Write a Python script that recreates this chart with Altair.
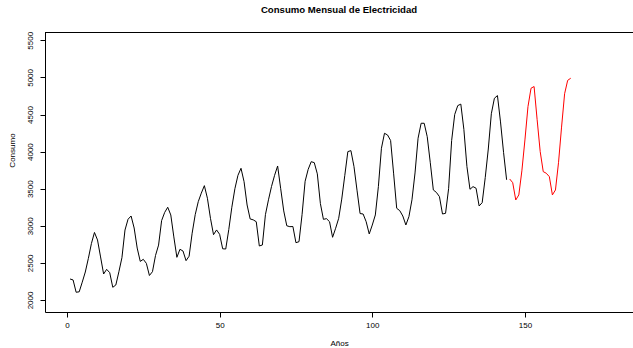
import altair as alt
import pandas as pd

# Observed monthly consumption (months 1..144)
observado = [
    2283, 2270, 2104, 2110, 2240, 2377, 2560, 2760, 2910, 2809, 2580, 2350,
    2413, 2368, 2171, 2202, 2380, 2570, 2943, 3088, 3132, 2970, 2700, 2520,
    2548, 2494, 2330, 2381, 2600, 2740, 3070, 3180, 3250, 3146, 2850, 2575,
    2683, 2660, 2530, 2590, 2900, 3150, 3325, 3440, 3541, 3371, 3100, 2880,
    2944, 2885, 2690, 2687, 2950, 3250, 3500, 3680, 3775, 3595, 3280, 3092,
    3080, 3055, 2728, 2741, 3150, 3350, 3530, 3680, 3806, 3500, 3200, 3000,
    2988, 2990, 2772, 2786, 3150, 3600, 3760, 3864, 3851, 3700, 3300, 3087,
    3096, 3055, 2845, 2967, 3101, 3360, 3680, 4000, 4013, 3800, 3480, 3165,
    3159, 3055, 2890, 3010, 3146, 3528, 4045, 4247, 4224, 4150, 3700, 3236,
    3204, 3132, 3011, 3123, 3350, 3712, 4180, 4382, 4382, 4201, 3850, 3483,
    3450, 3393, 3159, 3168, 3500, 4150, 4500, 4620, 4640, 4300, 3800, 3492,
    3528, 3506, 3267, 3312, 3650, 4035, 4510, 4719, 4755, 4400, 3990, 3620,
]
meses_obs = list(range(1, len(observado) + 1))

# Forecast (months 145..165)
pronostico = [
    3631, 3581, 3348, 3416, 3740, 4157, 4606, 4854, 4877, 4430, 4000, 3730,
    3708, 3662, 3416, 3483, 3850, 4330, 4780, 4960, 4989,
]
meses_pron = list(range(145, 145 + len(pronostico)))

x_ticks = [0, 50, 100, 150]
y_ticks = [2000, 2500, 3000, 3500, 4000, 4500, 5000, 5500]

df = pd.concat([
    pd.DataFrame({"mes": meses_obs, "consumo": observado, "serie": "Observado"}),
    pd.DataFrame({"mes": meses_pron, "consumo": pronostico, "serie": "Pronóstico"}),
], ignore_index=True)

FONT = "Liberation Sans"
W, H = 588, 280

xscale = alt.Scale(domain=[-7.2, 185.4], nice=False, zero=False)
yscale = alt.Scale(domain=[1838, 5612], nice=False, zero=False)

xaxis = alt.Axis(
    values=x_ticks, format="d", grid=False, tickSize=5, labelPadding=4,
    labelFontSize=8, labelFont=FONT, labelColor="black", labelOverlap=False,
    domainColor="black", tickColor="black",
    title="Años", titleFont=FONT, titleFontSize=8, titleFontWeight="normal",
    titleColor="black", titleX=W / 2, titleY=31, titleBaseline="middle",
    titleAlign="center",
)
yaxis = alt.Axis(
    values=y_ticks, format="d", grid=False, tickSize=5, labelPadding=10,
    labelFontSize=8, labelFont=FONT, labelColor="black", labelAngle=270,
    labelAlign="center", labelBaseline="middle", labelOverlap=False,
    labelBound=False, labelFlush=False,
    domainColor="black", tickColor="black",
    title="Consumo", titleFont=FONT, titleFontSize=8, titleFontWeight="normal",
    titleColor="black", titleAngle=270, titleX=-33, titleY=118,
    titleAlign="center", titleBaseline="middle",
)

lines = alt.Chart(df).mark_line(strokeWidth=1.0).encode(
    x=alt.X("mes:Q", scale=xscale, axis=xaxis),
    y=alt.Y("consumo:Q", scale=yscale, axis=yaxis),
    color=alt.Color("serie:N", scale=alt.Scale(domain=["Observado", "Pronóstico"],
                                               range=["black", "#ff0000"]), legend=None),
)
top_rule = alt.Chart(pd.DataFrame({"k": [0]})).mark_rule(color="black", strokeWidth=1).encode(
    x=alt.value(0), x2=alt.value(W), y=alt.value(0.5)
)

chart = (
    alt.layer(lines, top_rule)
    .properties(
        width=W, height=H,
        title=alt.TitleParams(
            "Consumo Mensual de Electricidad", font=FONT, fontSize=9.6,
            fontWeight="bold", color="black", anchor="middle", offset=17,
        ),
        autosize=alt.AutoSizeParams(type="none"),
        padding={"left": 45, "top": 32, "right": 0, "bottom": 36},
        background="white",
    )
    .configure_view(stroke=None)
)

chart.save("out.html", embed_options={"renderer": "svg", "actions": False})
